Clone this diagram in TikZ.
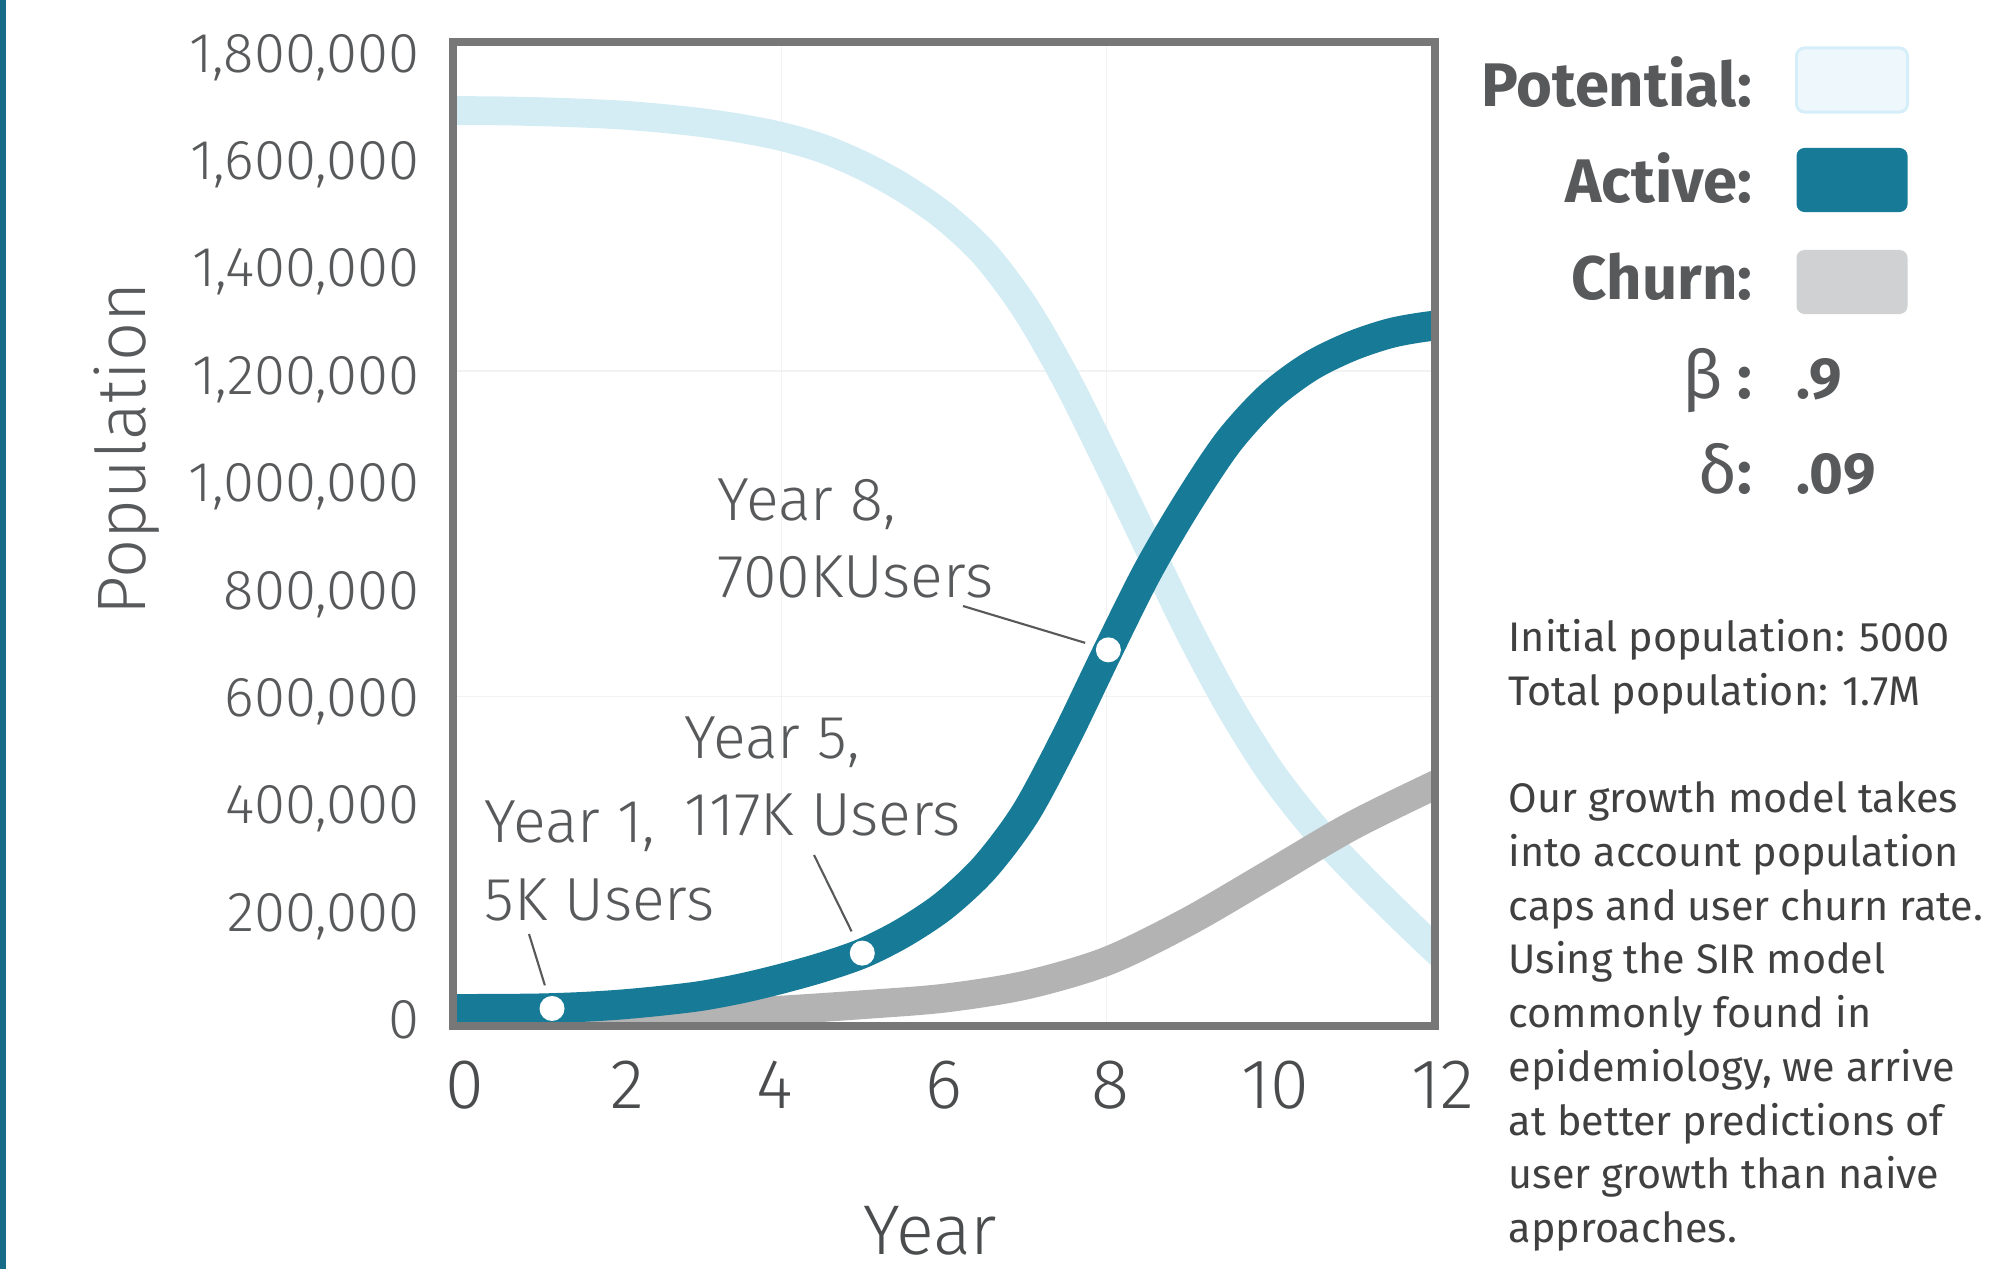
\documentclass[tikz,border=0pt]{standalone}
\usepackage{fontspec}
\setmainfont{Fira Sans}
\newfontfamily\lightfont{Fira Sans Light}
\usepackage{tikz}
\definecolor{actteal}{RGB}{23,122,150}
\definecolor{potblue}{RGB}{212,237,244}
\definecolor{churngray}{RGB}{179,179,179}
\definecolor{framegray}{RGB}{119,119,119}
\definecolor{txtgray}{RGB}{88,89,91}
\definecolor{bodygray}{RGB}{64,64,64}
\definecolor{gridgray}{RGB}{242,242,242}
\definecolor{potfill}{RGB}{238,247,252}
\definecolor{potedge}{RGB}{214,238,249}
\definecolor{churnfill}{RGB}{208,209,211}
\definecolor{stripteal}{RGB}{22,108,136}

\begin{document}
\begin{tikzpicture}[x=0.01cm, y=-0.01cm,
    ytick/.style={anchor=base east, inner sep=0pt, text=txtgray, font=\lightfont\fontsize{16}{19}\selectfont},
    xtick/.style={anchor=base, inner sep=0pt, text=txtgray!85!black, font=\lightfont\fontsize{20}{24}\selectfont},
    note/.style={anchor=base west, inner sep=0pt, text=txtgray, font=\lightfont\fontsize{17.3}{20}\selectfont},
    leader/.style={line width=0.6pt, draw=txtgray, shorten >=0.11cm},
    dot/.style={circle, fill=white, minimum size=0.25cm, inner sep=0pt},
    legendlbl/.style={anchor=base east, inner sep=0pt, text=txtgray, font=\bfseries\fontsize{17.5}{21}\selectfont},
    legendval/.style={anchor=base west, inner sep=0pt, text=txtgray, font=\bfseries\fontsize{16.5}{20}\selectfont},
    swatch/.style={rounded corners=0.08cm, minimum width=1.11cm, minimum height=0.64cm, inner sep=0pt},
    body/.style={anchor=base west, inner sep=0pt, text=bodygray, font=\fontsize{11.75}{15}\selectfont}]

\useasboundingbox (0,0) rectangle (1998,1269);
% strip at the left edge
\fill[stripteal] (0,0) rectangle (6,1269);

% plot area, in years and 100k users
\begin{scope}[shift={(457,1022)}, x=0.8117cm, y=0.5422cm]
  \begin{scope}
    \clip (0,0) rectangle (12,18);
    % grid
    \draw[gridgray, line width=0.3pt] (4,0) -- (4,18) (8,0) -- (8,18) (0,6) -- (12,6) (0,12) -- (12,12);
    % potential
    \draw[potblue, line width=8.2pt] plot[smooth, tension=0.5] coordinates {(-0.5,16.8) (0,16.8) (0.5,16.795) (1,16.78) (1.5,16.755) (2,16.72) (2.5,16.66) (3,16.58) (3.5,16.47) (4,16.32) (4.5,16.1) (5,15.78) (5.5,15.37) (6,14.85) (6.5,14.15) (7,13.15) (7.5,11.85) (8,10.35) (8.5,8.8) (9,7.25) (9.5,5.85) (10,4.65) (10.5,3.68) (11,2.87) (11.5,2.12) (12,1.40) (12.5,0.72)};
    % churn
    \draw[churngray, line width=8.2pt] plot[smooth, tension=0.5] coordinates {(-0.5,0.0) (0,0.0) (1,0.02) (2,0.07) (3,0.14) (4,0.22) (5,0.32) (6,0.44) (7,0.68) (8,1.12) (9,1.85) (10,2.72) (11,3.60) (12,4.34) (12.5,4.68)};
    % active
    \draw[actteal, line width=8.5pt] plot[smooth, tension=0.5] coordinates {(-0.5,0.24) (0,0.24) (0.5,0.243) (1,0.25) (1.5,0.275) (2,0.32) (2.5,0.39) (3,0.48) (3.5,0.62) (4,0.80) (4.5,1.01) (5,1.27) (5.5,1.65) (6,2.15) (6.5,2.85) (7,3.85) (7.5,5.25) (8,6.80) (8.5,8.30) (9,9.58) (9.5,10.70) (10,11.52) (10.5,12.08) (11,12.45) (11.5,12.70) (12,12.83) (12.5,12.88)};
  \end{scope}
  % marked years
  \node[dot] (d1) at (1.17,0.25) {};
  \node[dot] (d5) at (4.99,1.27) {};
  \node[dot] (d8) at (8.02,6.86) {};
\end{scope}

% frame
\draw[framegray, line width=2.28pt] (453,42) rectangle (1435,1026);

% axes
\foreach \v/\lbl in {0/0, 2/{200,000}, 4/{400,000}, 6/{600,000}, 8/{800,000}, 10/{1,000,000}, 12/{1,200,000}, 14/{1,400,000}, 16/{1,600,000}, 18/{1,800,000}}
  \node[ytick] (yl\v) at (420, {72+(18-\v)*53.7}) {\lbl};
\foreach \yr/\px in {0/465, 2/627, 4/775, 6/944, 8/1110, 10/1275, 12/1443}
  \node[xtick] (xl\yr) at (\px,1108) {\yr};
\node[xtick] (xtitle) at (930,1254) {Year};
\node[anchor=base, rotate=90, inner sep=0pt, text=txtgray, font=\lightfont\fontsize{19.5}{23}\selectfont] (ytitle) at (145,449) {Population};

% notes
\node[note] (n1a) at (484,842) {Year 1,};
\node[note] (n1b) at (484,920) {5K Users};
\node[note] (n5a) at (684,758) {Year 5,};
\node[note] (n5b) at (684,835) {117K Users};
\node[note] (n8a) at (717,520) {Year 8,};
\node[note] (n8b) at (717,597) {700KUsers};
\coordinate (c1) at (529,934);
\coordinate (c5) at (814,855);
\coordinate (c8) at (963,606);
\draw[leader] (c1) -- (d1);
\draw[leader] (c5) -- (d5);
\draw[leader] (c8) -- (d8);

% legend
\node[legendlbl] (lpot) at (1753,106) {Potential:};
\node[legendlbl] (lact) at (1753,202) {Active:};
\node[legendlbl] (lchu) at (1753,299) {Churn:};
\node[swatch, fill=potfill, draw=potedge, line width=0.85pt] (spot) at (1852,80) {};
\node[swatch, fill=actteal] (sact) at (1852,180) {};
\node[swatch, fill=churnfill] (schu) at (1852,282) {};
\node[legendlbl] (lbeta) at (1753,398) {{\mdseries\fontsize{19}{21}\selectfont β} :};
\node[legendlbl] (ldelta) at (1753,493) {{\mdseries\fontsize{19}{21}\selectfont δ}:};
\node[legendval] (vbeta) at (1796,398) {.9};
\node[legendval] (vdelta) at (1796,493) {.09};

% description
\foreach \ln/\k in {{Initial population: 5000}/0, {Total population: 1.7M}/1, {Our growth model takes}/3, {into account population}/4, {caps and user churn rate.}/5, {Using the SIR model}/6, {commonly found in}/7, {epidemiology, we arrive}/8, {at better predictions of}/9, {user growth than naive}/10, {approaches.}/11}
  \node[body] (p\k) at (1508, {651.7+\k*53.7}) {\ln};
\end{tikzpicture}
\end{document}
